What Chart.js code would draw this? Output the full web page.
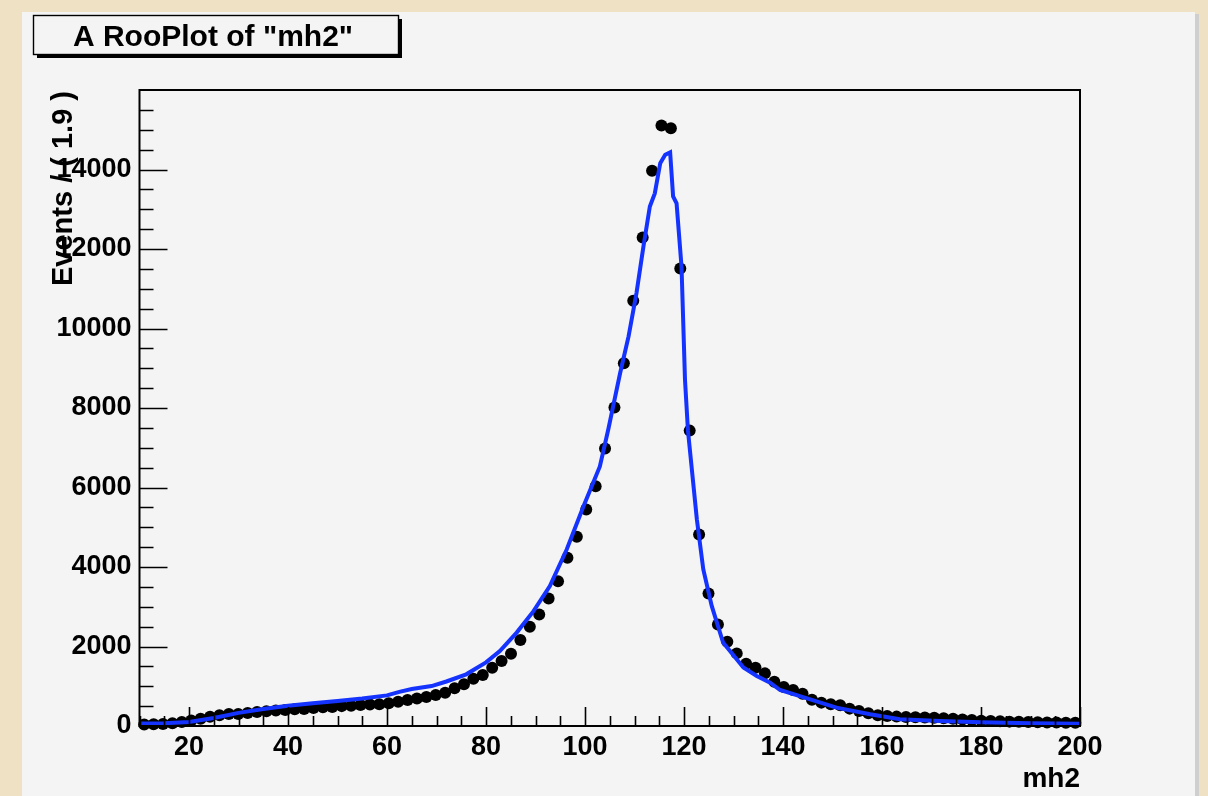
<!DOCTYPE html>
<html>
<head>
<meta charset="utf-8">
<script src="https://cdn.jsdelivr.net/npm/chart.js@4.4.1/dist/chart.umd.min.js"></script>
<style>
  html, body { margin: 0; padding: 0; background: #efe2c4; }
  canvas { display: block; }
</style>
</head>
<body>
<canvas id="mh2Plot" width="1208" height="796"></canvas>
<script>
// binning of the RooPlot: 100 bins of 1.9 between 10 and 200
const xMin = 10, xMax = 200, binWidth = 1.9;
const binCenters = Array.from({ length: 100 }, (_, i) => +(xMin + binWidth * (i + 0.5)).toFixed(2));

// events per bin
const events = [
    40, 45, 50, 70, 100, 140, 180, 230, 270, 300,
    300, 330, 350, 370, 390, 400, 420, 430, 450, 470,
    480, 500, 510, 530, 540, 545, 570, 610, 653, 689,
    729, 779, 839, 947, 1048, 1191, 1282, 1468, 1634, 1820,
    2161, 2498, 2807, 3209, 3644, 4232, 4760, 5446, 6032, 6979,
    8010, 9123, 10699, 12290, 13966, 15104, 15039, 11510, 7431, 4818,
    3335, 2556, 2121, 1827, 1568, 1468, 1324, 1116, 980, 905,
    810, 660, 588, 545, 520, 437, 377, 319, 269, 251,
    236, 228, 220, 212, 205, 195, 180, 165, 150, 135,
    125, 118, 110, 104, 98, 93, 90, 87, 84, 80
];

// fitted pdf curve
const curveX = [
    10, 15, 20, 25, 30, 35, 40, 45, 50, 55, 60, 62.5, 65, 69, 72, 76, 80,
    82.8, 86.2, 89.6, 92.9, 96.3, 99.7, 103.0, 104.7, 107.1, 108.8, 110.4,
    111.8, 113.1, 114.1, 115.2, 116.2, 117.2, 117.8, 118.5, 119.5, 120.2,
    120.8, 122.6, 123.9, 125.6, 127.9, 132, 134.7, 137.4, 139.4, 145.5,
    150.8, 157.6, 163.6, 171.7, 180, 190, 200
];
const curveY = [
    60, 70, 100, 200, 330, 430, 510, 570, 630, 690, 770, 860, 930, 1005, 1120, 1300, 1600,
    1885, 2350, 2890, 3520, 4440, 5530, 6530, 7460, 8880, 9800, 10890,
    12060, 13070, 13400, 14160, 14370, 14430, 13320, 13150, 11560, 8710,
    7430, 5195, 3940, 3020, 2100, 1470, 1260, 1090, 905, 671,
    462, 294, 168, 126, 95, 70, 55
];

const xTicks = [20, 40, 60, 80, 100, 120, 140, 160, 180, 200];
const yTicks = [0, 2000, 4000, 6000, 8000, 10000, 12000, 14000];
const yMax = 16000;

const FONT = "'Liberation Sans', Arial, Helvetica, sans-serif";

// ROOT look: canvas, title box, frame, inward ticks, axis titles
const rootStyle = {
    id: "rootStyle",
    beforeDraw(chart) {
        const c = chart.ctx;
        c.save();
        c.fillStyle = "#efe2c4";
        c.fillRect(0, 0, chart.width, chart.height);
        // pad shadow + pad
        c.fillStyle = "#cfcfcf";
        c.fillRect(1195, 14, 4, 782);
        c.fillStyle = "#f4f4f4";
        c.fillRect(22, 12, 1173, 784);
        // title box
        c.fillStyle = "#000";
        c.fillRect(37, 19, 365, 39);
        c.fillStyle = "#f4f4f4";
        c.fillRect(33, 15, 365, 39);
        c.strokeStyle = "#000";
        c.lineWidth = 1.4;
        c.strokeRect(33.5, 15.5, 365, 39);
        c.fillStyle = "#000";
        c.font = "bold 30px " + FONT;
        c.textAlign = "center";
        c.textBaseline = "alphabetic";
        c.fillText('A RooPlot of "mh2"', 213, 46);
        c.restore();
    },
    afterDraw(chart) {
        const c = chart.ctx;
        const a = chart.chartArea;
        const xs = chart.scales.x, ys = chart.scales.y;
        c.save();
        c.strokeStyle = "#000";
        c.lineWidth = 1.6;
        c.beginPath();
        // x ticks: major every 20, minor every 5
        for (let v = xMin; v <= xMax; v += 5) {
            const px = Math.round(xs.getPixelForValue(v)) + 0.5;
            const len = xTicks.includes(v) ? 19 : 10;
            c.moveTo(px, a.bottom);
            c.lineTo(px, a.bottom - len);
        }
        // y ticks: major every 2000, minor every 500
        for (let v = 0; v < yMax; v += 500) {
            const py = Math.round(ys.getPixelForValue(v)) + 0.5;
            const len = yTicks.includes(v) ? 28 : 14;
            c.moveTo(a.left, py);
            c.lineTo(a.left + len, py);
        }
        c.stroke();
        c.lineWidth = 2;
        c.strokeRect(a.left, a.top, a.right - a.left, a.bottom - a.top);

        c.fillStyle = "#000";
        c.font = "bold 28px " + FONT;
        c.textAlign = "right";
        c.textBaseline = "alphabetic";
        c.fillText("mh2", a.right, 787);

        c.font = "bold 29px " + FONT;
        c.translate(72, a.top + 1);
        c.rotate(-Math.PI / 2);
        c.fillText("Events / ( 1.9 )", 0, 0);
        c.restore();
    }
};

new Chart(document.getElementById("mh2Plot"), {
    type: "scatter",
    data: {
        datasets: [
            {
                label: "pdf",
                data: curveX.map((x, i) => ({ x: x, y: curveY[i] })),
                showLine: true,
                borderColor: "#1533ff",
                borderWidth: 4,
                pointRadius: 0,
                tension: 0,
                order: 0
            },
            {
                label: "data",
                data: binCenters.map((x, i) => ({ x: x, y: events[i] })),
                pointRadius: 6,
                pointBackgroundColor: "#000",
                pointBorderWidth: 0,
                order: 1
            }
        ]
    },
    options: {
        responsive: false,
        devicePixelRatio: 1,
        animation: false,
        clip: false,
        layout: { padding: { left: 20, right: 128, top: 90, bottom: 0 } },
        scales: {
            x: {
                type: "linear",
                min: xMin,
                max: xMax,
                afterBuildTicks: s => { s.ticks = xTicks.map(v => ({ value: v })); },
                afterFit: s => { s.height = 70; },
                grid: { display: false, drawTicks: false },
                border: { display: false },
                ticks: {
                    color: "#000",
                    padding: 5,
                    maxRotation: 0,
                    font: { family: FONT, size: 27, weight: "bold" },
                    callback: v => String(v)
                }
            },
            y: {
                min: 0,
                max: yMax,
                afterBuildTicks: s => { s.ticks = yTicks.map(v => ({ value: v })); },
                afterFit: s => { s.width = 119.5; },
                grid: { display: false, drawTicks: false },
                border: { display: false },
                ticks: {
                    color: "#000",
                    padding: 8,
                    font: { family: FONT, size: 27, weight: "bold" },
                    callback: v => String(v)
                }
            }
        },
        plugins: {
            legend: { display: false },
            tooltip: { enabled: false }
        }
    },
    plugins: [rootStyle]
});
</script>
</body>
</html>
